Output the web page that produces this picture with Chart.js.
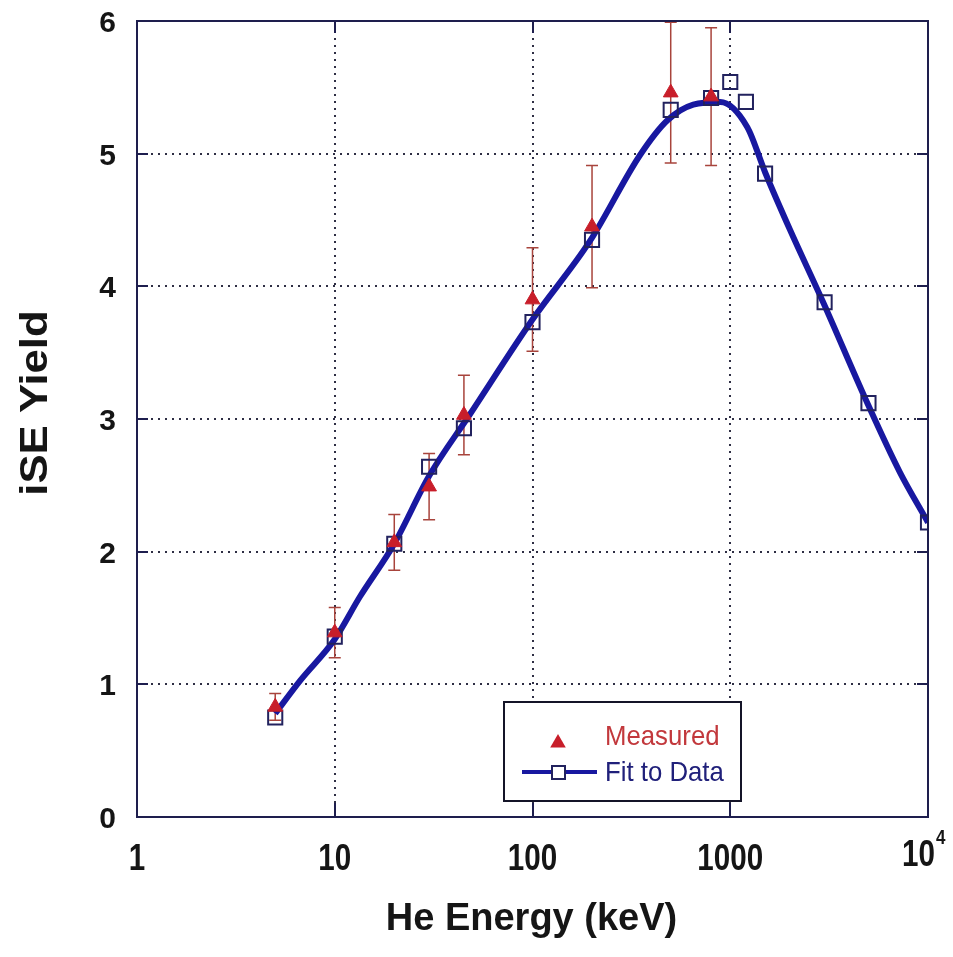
<!DOCTYPE html>
<html>
<head>
<meta charset="utf-8">
<title>iSE Yield vs He Energy</title>
<script src="https://cdn.jsdelivr.net/npm/chart.js@4.4.0/dist/chart.umd.min.js"></script>
<style>
  body { margin: 0; background: #fff; }
  canvas { display: block; }
</style>
</head>
<body>
<canvas id="yieldChart" width="953" height="957"></canvas>
<script>
// Measured iSE yield with its error bars
const measuredEnergy = [5, 10, 20, 30, 45, 100, 200, 500, 800];
const measuredYield = [0.83, 1.39, 2.07, 2.49, 3.03, 3.9, 4.45, 5.46, 5.43];
const measuredError = [0.1, 0.19, 0.21, 0.25, 0.3, 0.39, 0.46, 0.53, 0.52];

// Fit values at the tabulated energies (open squares)
const fitEnergy = [5, 10, 20, 30, 45, 100, 200, 500, 800, 1000, 1200, 1500, 3000, 5000, 10000];
const fitYield = [0.75, 1.36, 2.06, 2.64, 2.93, 3.73, 4.35, 5.33, 5.42, 5.54, 5.39, 4.85, 3.88, 3.12, 2.22];

// Smooth fit curve
const curveEnergy = [5, 6.7, 10, 13.4, 20, 30, 48, 100, 195, 350, 480, 650, 890, 1220, 1500, 2000, 2950, 4900, 7200, 10000];
const curveYield = [0.78, 1.03, 1.34, 1.66, 2.06, 2.57, 3.03, 3.75, 4.34, 4.99, 5.25, 5.37, 5.39, 5.2, 4.86, 4.43, 3.88, 3.13, 2.6, 2.22];

// Axis ticks
const xTicks = [1, 10, 100, 1000, 10000];
const xTickLabels = ["1", "10", "100", "1000", "10^4"];
const yTicks = [0, 1, 2, 3, 4, 5, 6];

const FONT = "'Liberation Sans', Arial, sans-serif";
const frameColor = "#1e1e4e";
const gridColor = "#2e2e44";
const curveColor = "#1818a0";
const squareColor = "#22225e";
const measuredColor = "#c81e2a";
const errorColor = "#a8443c";

const toPoints = (xs, ys) => xs.map((x, i) => ({ x: x, y: ys[i] }));

// Text with an optional horizontal squeeze
function drawText(c, text, x, y, font, align, sx) {
  c.save();
  c.translate(x, y);
  c.scale(sx || 1, 1);
  c.font = font;
  c.textAlign = align;
  c.textBaseline = "alphabetic";
  c.fillText(text, 0, 0);
  c.restore();
}

function drawTriangle(c, x, y, r) {
  c.beginPath();
  c.moveTo(x, y - r);
  c.lineTo(x + r * 0.866, y + r * 0.5);
  c.lineTo(x - r * 0.866, y + r * 0.5);
  c.closePath();
  c.fill();
}

const framePlugin = {
  id: "frame",
  beforeDraw(chart) {
    const c = chart.ctx;
    c.save();
    c.fillStyle = "#fff";
    c.fillRect(0, 0, chart.width, chart.height);
    c.restore();
  },
  beforeDatasetsDraw(chart) {
    const c = chart.ctx;
    const a = chart.chartArea;
    const x = chart.scales.x;
    const y = chart.scales.y;
    c.save();
    // dotted grid
    c.strokeStyle = gridColor;
    c.lineWidth = 2;
    c.setLineDash([2, 5]);
    yTicks.slice(1, -1).forEach((v) => {
      const py = Math.round(y.getPixelForValue(v));
      c.beginPath();
      c.moveTo(a.left, py);
      c.lineTo(a.right, py);
      c.stroke();
    });
    xTicks.slice(1, -1).forEach((v) => {
      const px = Math.round(x.getPixelForValue(v));
      c.beginPath();
      c.moveTo(px, a.bottom);
      c.lineTo(px, a.top);
      c.stroke();
    });
    c.setLineDash([]);

    // error bars, clipped to the plot
    c.beginPath();
    c.rect(a.left, a.top, a.right - a.left, a.bottom - a.top);
    c.clip();
    c.strokeStyle = errorColor;
    c.lineWidth = 1.5;
    measuredEnergy.forEach((e, i) => {
      const px = x.getPixelForValue(e);
      const top = y.getPixelForValue(measuredYield[i] + measuredError[i]);
      const bot = y.getPixelForValue(measuredYield[i] - measuredError[i]);
      c.beginPath();
      c.moveTo(px, top);
      c.lineTo(px, bot);
      c.moveTo(px - 6, top);
      c.lineTo(px + 6, top);
      c.moveTo(px - 6, bot);
      c.lineTo(px + 6, bot);
      c.stroke();
    });
    c.restore();
  },
  afterDraw(chart) {
    const c = chart.ctx;
    const a = chart.chartArea;
    const x = chart.scales.x;
    const y = chart.scales.y;
    c.save();

    // frame and inward ticks
    c.strokeStyle = frameColor;
    c.lineWidth = 2;
    c.strokeRect(a.left, a.top, a.right - a.left, a.bottom - a.top);
    c.beginPath();
    yTicks.slice(1, -1).forEach((v) => {
      const py = Math.round(y.getPixelForValue(v));
      c.moveTo(a.left, py);
      c.lineTo(a.left + 11, py);
      c.moveTo(a.right, py);
      c.lineTo(a.right - 11, py);
    });
    xTicks.slice(1, -1).forEach((v) => {
      const px = Math.round(x.getPixelForValue(v));
      c.moveTo(px, a.bottom);
      c.lineTo(px, a.bottom - 14);
      c.moveTo(px, a.top);
      c.lineTo(px, a.top + 12);
    });
    c.stroke();

    // tick labels
    c.fillStyle = "#151515";
    yTicks.forEach((v) => {
      drawText(c, String(v), a.left - 21, y.getPixelForValue(v) + 11, "bold 30px " + FONT, "right");
    });
    xTicks.forEach((v, i) => {
      const px = x.getPixelForValue(v);
      const label = xTickLabels[i];
      if (label.indexOf("^") > 0) {
        const parts = label.split("^");
        drawText(c, parts[0], px + 7, 866, "bold 37px " + FONT, "right", 0.8);
        drawText(c, parts[1], px + 8, 844, "bold 20px " + FONT, "left", 0.85);
      } else {
        drawText(c, label, px, 870, "bold 37px " + FONT, "center", 0.8);
      }
    });

    // axis titles
    drawText(c, "He Energy (keV)", (a.left + a.right) / 2 - 1, 930, "bold 38px " + FONT, "center");
    c.save();
    c.translate(47, (a.top + a.bottom) / 2 - 16);
    c.rotate(-Math.PI / 2);
    c.scale(1.15, 1);
    c.font = "bold 38px " + FONT;
    c.textAlign = "center";
    c.fillText("iSE Yield", 0, 0);
    c.restore();

    // legend
    const lx = a.left + 367;
    const ly = a.bottom - 115;
    c.fillStyle = "#fff";
    c.fillRect(lx, ly, 237, 99);
    c.strokeStyle = "#141428";
    c.lineWidth = 2;
    c.strokeRect(lx, ly, 237, 99);

    c.fillStyle = measuredColor;
    drawTriangle(c, lx + 54, ly + 41, 9);
    c.fillStyle = "#c2383c";
    drawText(c, "Measured", lx + 101, ly + 43, "28px " + FONT, "left", 0.92);

    c.strokeStyle = curveColor;
    c.lineWidth = 4;
    c.beginPath();
    c.moveTo(lx + 18, ly + 70);
    c.lineTo(lx + 93, ly + 70);
    c.stroke();
    c.fillStyle = "#fff";
    c.fillRect(lx + 48, ly + 64, 13, 13);
    c.strokeStyle = squareColor;
    c.lineWidth = 2;
    c.strokeRect(lx + 48, ly + 64, 13, 13);
    c.fillStyle = "#20207a";
    drawText(c, "Fit to Data", lx + 101, ly + 79, "28px " + FONT, "left", 0.92);

    c.restore();
  },
};

const ctx = document.getElementById("yieldChart").getContext("2d");
new Chart(ctx, {
  type: "scatter",
  data: {
    datasets: [
      {
        label: "Measured",
        data: toPoints(measuredEnergy, measuredYield),
        pointStyle: "triangle",
        pointRadius: 8.5,
        backgroundColor: measuredColor,
        borderColor: measuredColor,
        borderWidth: 1,
        order: 0,
      },
      {
        label: "Fit to Data",
        data: toPoints(fitEnergy, fitYield),
        pointStyle: "rect",
        pointRadius: 10,
        backgroundColor: "rgba(0,0,0,0)",
        borderColor: squareColor,
        borderWidth: 2,
        order: 1,
      },
      {
        label: "Fit curve",
        type: "line",
        data: toPoints(curveEnergy, curveYield),
        borderColor: curveColor,
        borderWidth: 6,
        pointRadius: 0,
        cubicInterpolationMode: "monotone",
        fill: false,
        order: 2,
      },
    ],
  },
  options: {
    responsive: false,
    animation: false,
    layout: { padding: { top: 21, right: 25, left: 0, bottom: 0 } },
    plugins: {
      legend: { display: false },
      tooltip: { enabled: false },
    },
    scales: {
      x: {
        type: "logarithmic",
        min: 1,
        max: 10000,
        grid: { display: false },
        border: { display: false },
        ticks: { display: false },
        afterFit: (s) => { s.height = 140; },
      },
      y: {
        type: "linear",
        min: 0,
        max: 6,
        grid: { display: false },
        border: { display: false },
        ticks: { display: false },
        afterFit: (s) => { s.width = 137; },
      },
    },
  },
  plugins: [framePlugin],
});
</script>
</body>
</html>
